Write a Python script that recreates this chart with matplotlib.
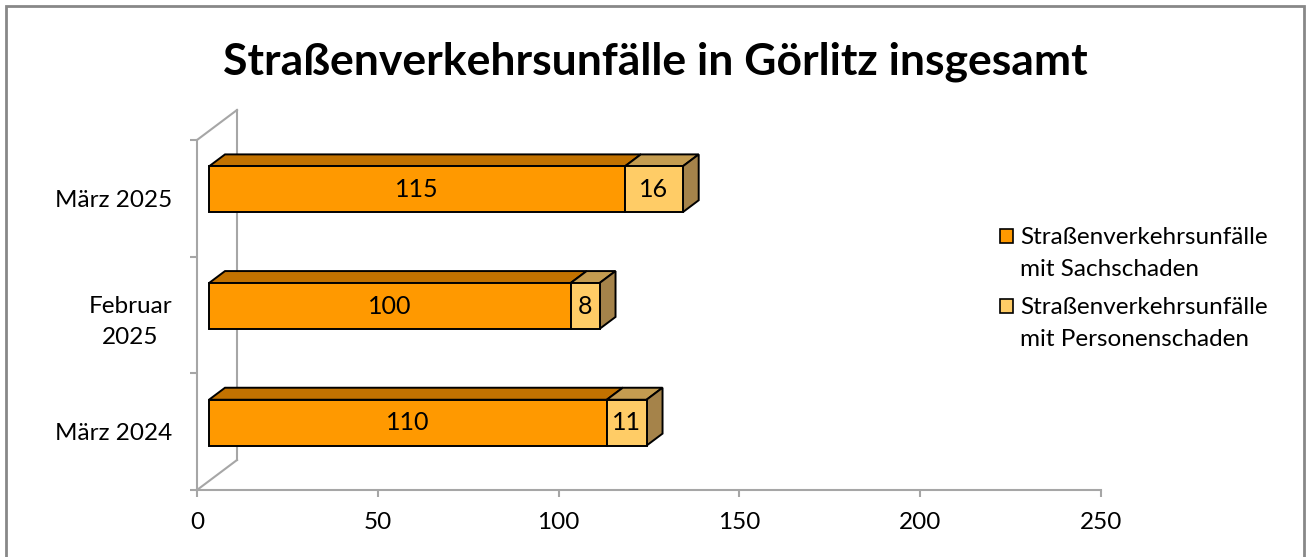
import matplotlib.pyplot as plt
from matplotlib.patches import Polygon, Rectangle
import numpy as np

# data
categories = ['März 2024', 'Februar\n2025', 'März 2025']
sachschaden = [110, 100, 115]
personenschaden = [11, 8, 16]
series_names = ['Straßenverkehrsunfälle\nmit Sachschaden',
                'Straßenverkehrsunfälle\nmit Personenschaden']
title = 'Straßenverkehrsunfälle in Görlitz insgesamt'

plt.rcParams['font.family'] = ['Lato', 'DejaVu Sans']

front_colors = ['#FF9900', '#FFCC66']
top_colors = ['#C27200', '#C49C50']
side_colors = ['#A67800', '#A5834A']
wall_color = '#A6A6A6'

W, H = 1306, 557
fig = plt.figure(figsize=(W / 100, H / 100), dpi=100)
ax = fig.add_axes([197/W, 67/H, 904/W, 350/H])
ax.set_xlim(0, 250)
ax.set_ylim(-0.5, 2.5)

# pixel -> data unit conversion for the 3d look
px_x = 250 / 904.0
px_y = 3 / 350.0
front_dx, front_dy = 12 * px_x, 9 * px_y     # shift of front face
depth_dx, depth_dy = 16 * px_x, 12 * px_y    # bar depth
wall_dx, wall_dy = 40 * px_x, 30 * px_y      # back wall

bar_h = 46 / 117.0
y = np.arange(len(categories))

# walls
ax.plot([wall_dx, wall_dx], [-0.5 + wall_dy, 2.5 + wall_dy], color=wall_color,
        lw=1.5, clip_on=False, zorder=1)
ax.plot([0, wall_dx], [2.5, 2.5 + wall_dy], color=wall_color, lw=1.5, clip_on=False, zorder=1)
ax.plot([0, wall_dx], [-0.5, -0.5 + wall_dy], color=wall_color, lw=1.5, clip_on=False, zorder=1)

series = [np.array(sachschaden, float), np.array(personenschaden, float)]
lefts = np.zeros(len(categories))
for i, vals in enumerate(series):
    ax.barh(y + front_dy, vals, bar_h, left=lefts + front_dx, color=front_colors[i],
            edgecolor='black', linewidth=1.4, zorder=3, label=series_names[i])
    for k in range(len(categories)):
        x0 = lefts[k] + front_dx
        x1 = x0 + vals[k]
        yt = y[k] + front_dy + bar_h / 2
        yb = y[k] + front_dy - bar_h / 2
        top = Polygon([[x0, yt], [x1, yt], [x1 + depth_dx, yt + depth_dy],
                       [x0 + depth_dx, yt + depth_dy]], closed=True,
                      facecolor=top_colors[i], edgecolor='black', lw=1.4, zorder=2.5,
                      clip_on=False)
        ax.add_patch(top)
        if i == len(series) - 1:
            side = Polygon([[x1, yb], [x1 + depth_dx, yb + depth_dy],
                            [x1 + depth_dx, yt + depth_dy], [x1, yt]], closed=True,
                           facecolor=side_colors[i], edgecolor='black', lw=1.4, zorder=2.5,
                           clip_on=False)
            ax.add_patch(side)
        ax.text((x0 + x1) / 2, y[k] + front_dy, '%d' % vals[k], ha='center', va='center',
                fontsize=18, zorder=5)
    lefts = lefts + vals

# axes styling
for s in ['top', 'right']:
    ax.spines[s].set_visible(False)
for s in ['left', 'bottom']:
    ax.spines[s].set_color(wall_color)
    ax.spines[s].set_linewidth(1.5)
    ax.spines[s].set_zorder(1)

ax.set_xticks(np.arange(0, 251, 50))
ax.tick_params(axis='x', length=5, width=1.5, color=wall_color, pad=11, labelsize=17.5)
ax.set_yticks([-0.5, 0.5, 1.5, 2.5])
ax.set_yticklabels([])
ax.tick_params(axis='y', which='major', length=5, width=1.5, color=wall_color)
ax.set_yticks(y, minor=True)
ax.set_yticklabels(categories, minor=True, fontsize=17.5, multialignment='center',
                   linespacing=1.6)
ax.tick_params(axis='y', which='minor', length=0, pad=18)

fig.text(655/W, 1 - 62/H, title, ha='center', va='center', fontsize=32, fontweight='bold')

# legend (square aligned with first line of each entry)
legend_y = [236, 306]
for i, name in enumerate(series_names):
    fig.patches.append(Rectangle((1000/W, 1 - (legend_y[i] + 7)/H), 13/W, 14/H,
                                 transform=fig.transFigure, facecolor=front_colors[i],
                                 edgecolor='black', lw=1.2))
    fig.text(1020/W, 1 - (legend_y[i] - 9)/H, name, ha='left', va='top', fontsize=17.5,
             linespacing=1.65)

# chart frame
fig.patches.append(Rectangle((6/W, -0.01), 1298/W, (551 + 6)/H, transform=fig.transFigure,
                             fill=False, edgecolor='#888888', lw=2))

fig.savefig('out.png', dpi=100)
